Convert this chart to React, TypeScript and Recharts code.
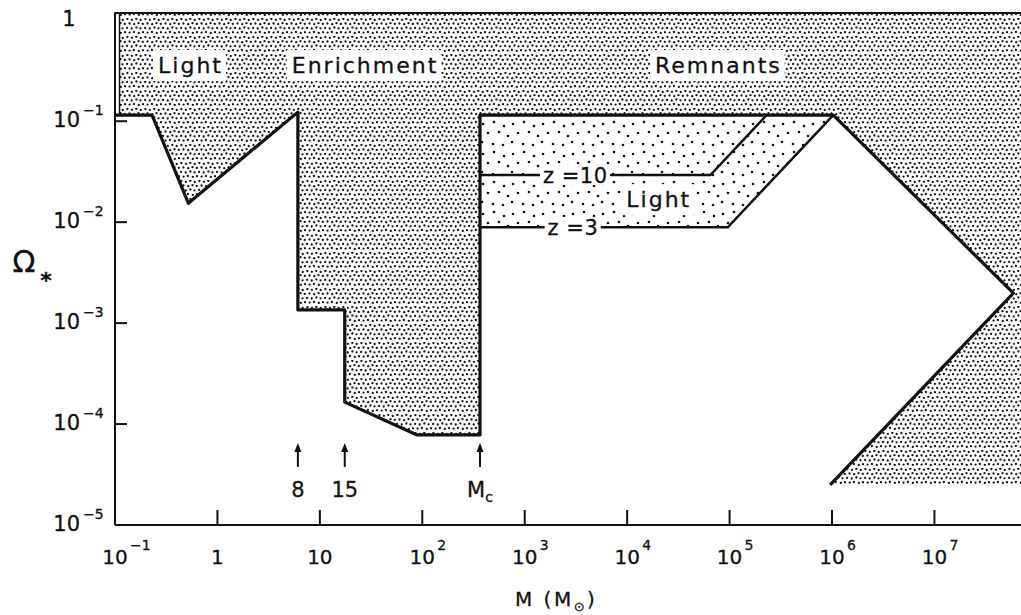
import { ComposedChart, Area, Line, Scatter, XAxis, YAxis, ReferenceArea, ReferenceLine } from "recharts";

const FONT = "'DejaVu Sans', 'Noto Sans', sans-serif";
const INK = "#111";

// axes
const massTicks = [0.1, 1, 10, 1e2, 1e3, 1e4, 1e5, 1e6, 1e7];
const omegaTicks = [1e-5, 1e-4, 1e-3, 1e-2, 1e-1, 1];
const massMax = 7e7;
const omegaTop = 1.18;

// boundary of the allowed (white) region, in drawing order
const edgeMass = [0.1, 0.23, 0.52, 6.1, 6.1, 17.5, 17.5, 89, 366, 366, 1.03e6, 5.9e7, 9.6e5];
const edgeOmega = [0.115, 0.115, 0.0154, 0.123, 0.00135, 0.00135, 1.65e-4, 7.8e-5, 7.8e-5, 0.115, 0.115, 1.98e-3, 2.5e-5];
const floorOmega = 2.5e-5;
const stripMass = 0.1107;

// light from remnants, z = 10 and z = 3
const z10Mass = [366, 6.5e4, 2.3e5];
const z10Omega = [0.0293, 0.0293, 0.115];
const z3Mass = [366, 9.6e4, 1.03e6];
const z3Omega = [0.0089, 0.0089, 0.115];

// arrows above the mass axis
const arrowMass = [6.1, 17.5, 366];
const arrowText = ["8", "15", "Mc"];
const arrowOmega = 6.5e-5;

// region names
const regionText = ["Light", "Enrichment", "Remnants", "Light"];
const regionMass = [0.534, 27, 7.6e4, 1.99e4];
const regionOmega = [0.36, 0.36, 0.36, 0.0169];

const zText = ["z =10", "z =3"];
const zMass = [3.1e3, 2.94e3];
const zOmega = [0.0293, 0.00895];

const edge = edgeMass.map((x, i) => ({ x, y: edgeOmega[i] }));
const upper = [
  ...edge.slice(0, 12).map((p) => ({ x: p.x, y: [p.y, omegaTop] })),
  { x: edgeMass[11], y: [floorOmega, omegaTop] },
  { x: massMax, y: [floorOmega, omegaTop] },
];
const wedge = [
  { x: edgeMass[12], y: [floorOmega, floorOmega] },
  { x: edgeMass[11], y: [floorOmega, edgeOmega[11]] },
];
const lightBand = z3Mass.map((x, i) => ({ x, y: [z3Omega[i], z3Omega[2]] }));
const z10 = z10Mass.map((x, i) => ({ x, y: z10Omega[i] }));
const z3 = z3Mass.map((x, i) => ({ x, y: z3Omega[i] }));
const arrows = arrowMass.map((x, i) => ({ x, y: arrowOmega, text: arrowText[i] }));
const regions = regionMass.map((x, i) => ({ x, y: regionOmega[i], text: regionText[i] }));
const zLabels = zMass.map((x, i) => ({ x, y: zOmega[i], text: zText[i] }));

// stipple dots (pattern tiles)
const denseDots = [
  [1.4, 1.1], [5.9, 1.8], [10.3, 0.9], [14.7, 2.0],
  [3.5, 5.5], [8.2, 6.2], [12.5, 5.2], [16.8, 5.9],
  [1.1, 9.9], [5.7, 10.5], [10.4, 9.5], [14.5, 10.3],
  [3.6, 14.6], [7.9, 14.0], [12.8, 14.9], [17.0, 14.2],
];
const lightDots = [[3, 4], [14, 2], [24, 6], [8, 13], [19, 12], [28, 16], [2, 22], [13, 24], [23, 25]];

const ctx = typeof document !== "undefined" ? document.createElement("canvas").getContext("2d") : null;
function textWidth(s: string, size: number, spacing: number) {
  if (!ctx) return s.length * size * 0.6;
  ctx.font = `${size}px 'DejaVu Sans'`;
  return ctx.measureText(s).width + spacing * (s.length - 1);
}

const txt = { fontFamily: FONT, fill: INK, stroke: INK, strokeWidth: 0.3 };

const MassTick = ({ x, y, payload }: any) => {
  const e = Math.round(Math.log10(payload.value));
  return (
    <g>
      {e > -1 && <line x1={x} x2={x} y1={y} y2={y - 15} stroke={INK} strokeWidth={2} />}
      {e === 0 ? (
        <text x={x} y={y + 39} fontSize={20} textAnchor="middle" {...txt}>1</text>
      ) : (
        <>
          <text x={x} y={y + 39} fontSize={20} textAnchor="middle" {...txt}>10</text>
          {e !== 1 && (
            <text x={x + 15} y={y + 25} fontSize={14} {...txt}>{e < 0 ? "\u2212" + -e : e}</text>
          )}
        </>
      )}
    </g>
  );
};

const OmegaTick = ({ x, y, payload }: any) => {
  const e = Math.round(Math.log10(payload.value));
  return (
    <g>
      {e < 0 && e > -5 && <line x1={x} x2={x + 12} y1={y} y2={y} stroke={INK} strokeWidth={2} />}
      {e === 0 ? (
        <text x={x - 46} y={y + 6} fontSize={21} textAnchor="middle" {...txt}>1</text>
      ) : (
        <>
          <text x={x - 35} y={y + 6} fontSize={21} textAnchor="end" {...txt}>10</text>
          <text x={x - 32} y={y - 6} fontSize={14} {...txt}>{"\u2212" + -e}</text>
        </>
      )}
    </g>
  );
};

const ArrowMark = ({ cx, cy, payload }: any) => (
  <g>
    <line x1={cx} x2={cx} y1={cy + 6} y2={cy + 24} stroke={INK} strokeWidth={2} />
    <polygon points={`${cx},${cy} ${cx - 3.5},${cy + 9} ${cx + 3.5},${cy + 9}`} fill={INK} />
    {payload.text === "Mc" ? (
      <text x={cx} y={cy + 54} fontSize={21} textAnchor="middle" {...txt}>
        M<tspan fontSize={14} dy={5}>c</tspan>
      </text>
    ) : (
      <text x={cx} y={cy + 54} fontSize={21} textAnchor="middle" {...txt}>{payload.text}</text>
    )}
  </g>
);

const RegionLabel = ({ cx, cy, payload }: any) => {
  const w = textWidth(payload.text, 22, 2);
  return (
    <g>
      <rect x={cx - w / 2 - 5} y={cy - 15} width={w + 10} height={31} fill="#fff" />
      <text x={cx - w / 2} y={cy + 8} fontSize={22} letterSpacing={2} {...txt}>{payload.text}</text>
    </g>
  );
};

const ZLabel = ({ cx, cy, payload }: any) => {
  const w = textWidth(payload.text, 21, 0.5);
  return (
    <g>
      <rect x={cx - w / 2 - 3} y={cy - 10} width={w + 6} height={20} fill="#fff" />
      <text x={cx - w / 2} y={cy + 8} fontSize={21} letterSpacing={0.5} {...txt}>{payload.text}</text>
    </g>
  );
};

export default function App() {
  return (
    <div style={{ position: "absolute", left: 0, top: 0, width: 1021, height: 615, background: "#fff" }}>
      <svg width={0} height={0} style={{ position: "absolute" }}>
        <defs>
          <pattern id="stipDense" width={18} height={18} patternUnits="userSpaceOnUse">
            {denseDots.map(([cx, cy], i) => <circle key={i} cx={cx} cy={cy} r={1.15} fill={INK} />)}
          </pattern>
          <pattern id="stipLight" width={30} height={30} patternUnits="userSpaceOnUse">
            {lightDots.map(([cx, cy], i) => <circle key={i} cx={cx} cy={cy} r={1.3} fill={INK} />)}
          </pattern>
        </defs>
      </svg>
      <ComposedChart width={1021} height={615} margin={{ top: 13, right: 0, bottom: 30, left: 55 }}>
        <XAxis dataKey="x" type="number" scale="log" domain={[0.1, massMax]} allowDataOverflow ticks={massTicks}
          interval={0} tick={<MassTick />} tickSize={0} tickMargin={0} height={60} tickLine={false}
          axisLine={{ stroke: INK, strokeWidth: 2 }} />
        <YAxis dataKey="y" type="number" scale="log" domain={[1e-5, omegaTop]} allowDataOverflow ticks={omegaTicks}
          interval={0} tick={<OmegaTick />} tickSize={0} tickMargin={0} width={60} tickLine={false}
          axisLine={{ stroke: INK, strokeWidth: 2 }} />
        <Area data={upper} dataKey="y" type="linear" stroke="none" fill="url(#stipDense)" fillOpacity={1} isAnimationActive={false} />
        <Area data={wedge} dataKey="y" type="linear" stroke="none" fill="url(#stipDense)" fillOpacity={1} isAnimationActive={false} />
        <Area data={lightBand} dataKey="y" type="linear" stroke="none" fill="url(#stipLight)" fillOpacity={1} isAnimationActive={false} />
        <ReferenceArea x1={0.1} x2={stripMass} y1={edgeOmega[0]} y2={omegaTop} fill="#fff" fillOpacity={1} stroke={INK} strokeWidth={1.5} />
        <ReferenceLine y={omegaTop} stroke={INK} strokeWidth={2} />
        <Line data={edge} dataKey="y" type="linear" stroke={INK} strokeWidth={3.2} dot={false} strokeLinejoin="round" isAnimationActive={false} />
        <Line data={z10} dataKey="y" type="linear" stroke={INK} strokeWidth={2.5} dot={false} isAnimationActive={false} />
        <Line data={z3} dataKey="y" type="linear" stroke={INK} strokeWidth={2.5} dot={false} isAnimationActive={false} />
        <Scatter data={arrows} dataKey="y" shape={<ArrowMark />} isAnimationActive={false} />
        <Scatter data={regions} dataKey="y" shape={<RegionLabel />} isAnimationActive={false} />
        <Scatter data={zLabels} dataKey="y" shape={<ZLabel />} isAnimationActive={false} />
      </ComposedChart>
      <svg width={1021} height={615} style={{ position: "absolute", left: 0, top: 0, pointerEvents: "none" }}>
        <text x={24} y={272} fontSize={30} textAnchor="middle" {...txt}>Ω</text>
        <text x={46} y={288} fontSize={22} fontWeight="bold" textAnchor="middle" {...txt}>*</text>
        <text x={515} y={606} fontSize={20} letterSpacing={2.5} {...txt}>
          M (M<tspan fontSize={13} dy={5}>⊙</tspan><tspan dy={-5}>)</tspan>
        </text>
      </svg>
    </div>
  );
}
